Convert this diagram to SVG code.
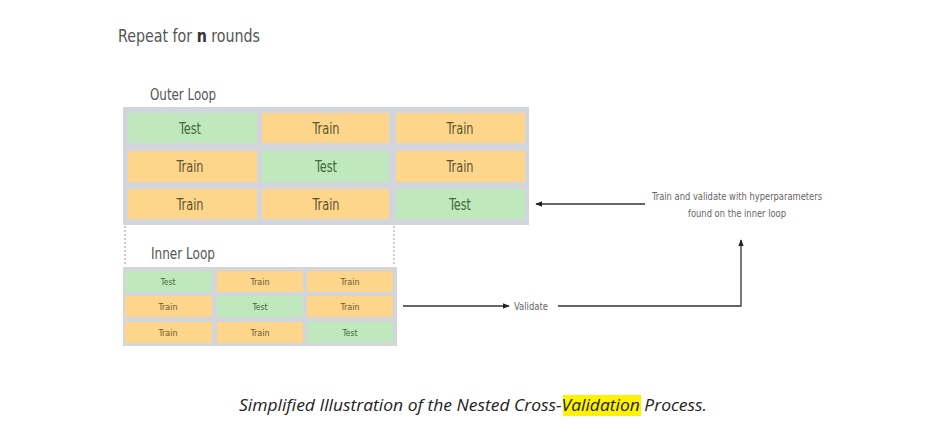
<svg xmlns="http://www.w3.org/2000/svg" width="934" height="434" viewBox="0 0 934 434">
<style>
.cond{font-family:"DejaVu Sans Condensed","Roboto","Liberation Sans",sans-serif}
.title{font-size:18px;fill:#555}
.lbl{font-size:16px;fill:#555}
.cont{fill:#d2d6dc}
.g{fill:#bfe8bc}
.o{fill:#fdd68b}
.ct{font-size:15px;text-anchor:middle;fill:#5e5530}
.ctg{fill:#3d6b3d}
.it{font-size:9px;text-anchor:middle;fill:#6a5a30}
.itg{fill:#3d6b3d}
.note{font-size:10px;fill:#666;text-anchor:middle}
.ln{stroke:#333;stroke-width:1.3;fill:none}
.dash{stroke:#999;stroke-width:1;stroke-dasharray:2 2;fill:none}
.cap{font-family:"Open Sans","Liberation Sans",sans-serif;font-style:italic;font-size:16px;fill:#222}
</style>
<defs>
<marker id="ah" viewBox="0 0 10 10" refX="9" refY="5" markerWidth="7" markerHeight="7" orient="auto-start-reverse" markerUnits="userSpaceOnUse">
<path d="M0,1 L10,5 L0,9 z" fill="#222"/>
</marker>
</defs>
<rect width="934" height="434" fill="#fff"/>

<g id="heading">
<text class="cond title" transform="translate(118,42) scale(0.88,1)" x="0" y="0">Repeat for <tspan font-weight="bold" fill="#333">n</tspan> rounds</text>
</g>

<g id="outer-loop">
<text class="cond lbl" x="150" y="100" textLength="66" lengthAdjust="spacingAndGlyphs">Outer Loop</text>
<rect class="cont" x="123" y="107" width="406" height="118"/>
<rect class="g" x="128" y="113" width="129" height="30"/>
<rect class="o" x="262" y="113" width="127" height="30"/>
<rect class="o" x="396" y="113" width="129" height="30"/>
<rect class="o" x="128" y="151" width="129" height="31"/>
<rect class="g" x="262" y="151" width="127" height="31"/>
<rect class="o" x="396" y="151" width="129" height="31"/>
<rect class="o" x="128" y="189" width="129" height="30"/>
<rect class="o" x="262" y="189" width="127" height="30"/>
<rect class="g" x="396" y="189" width="129" height="30"/>
<text class="cond ct ctg" x="190" y="134" textLength="22" lengthAdjust="spacingAndGlyphs">Test</text>
<text class="cond ct" x="326" y="134" textLength="27" lengthAdjust="spacingAndGlyphs">Train</text>
<text class="cond ct" x="460" y="134" textLength="27" lengthAdjust="spacingAndGlyphs">Train</text>
<text class="cond ct" x="190" y="172" textLength="27" lengthAdjust="spacingAndGlyphs">Train</text>
<text class="cond ct ctg" x="326" y="172" textLength="22" lengthAdjust="spacingAndGlyphs">Test</text>
<text class="cond ct" x="460" y="172" textLength="27" lengthAdjust="spacingAndGlyphs">Train</text>
<text class="cond ct" x="190" y="210" textLength="27" lengthAdjust="spacingAndGlyphs">Train</text>
<text class="cond ct" x="326" y="210" textLength="27" lengthAdjust="spacingAndGlyphs">Train</text>
<text class="cond ct ctg" x="460" y="210" textLength="22" lengthAdjust="spacingAndGlyphs">Test</text>
</g>

<g id="inner-loop">
<text class="cond lbl" x="151" y="259" textLength="64" lengthAdjust="spacingAndGlyphs">Inner Loop</text>
<rect class="cont" x="123" y="267" width="274" height="79"/>
<rect class="g" x="125" y="271" width="87" height="21"/>
<rect class="o" x="217" y="271" width="86" height="21"/>
<rect class="o" x="307" y="271" width="86" height="21"/>
<rect class="o" x="125" y="296" width="87" height="21"/>
<rect class="g" x="217" y="296" width="86" height="21"/>
<rect class="o" x="307" y="296" width="86" height="21"/>
<rect class="o" x="125" y="322" width="87" height="21"/>
<rect class="o" x="217" y="322" width="86" height="21"/>
<rect class="g" x="307" y="322" width="86" height="21"/>
<text class="cond it itg" x="168" y="285" textLength="15" lengthAdjust="spacingAndGlyphs">Test</text>
<text class="cond it" x="260" y="285" textLength="19" lengthAdjust="spacingAndGlyphs">Train</text>
<text class="cond it" x="350" y="285" textLength="19" lengthAdjust="spacingAndGlyphs">Train</text>
<text class="cond it" x="168" y="310" textLength="19" lengthAdjust="spacingAndGlyphs">Train</text>
<text class="cond it itg" x="260" y="310" textLength="15" lengthAdjust="spacingAndGlyphs">Test</text>
<text class="cond it" x="350" y="310" textLength="19" lengthAdjust="spacingAndGlyphs">Train</text>
<text class="cond it" x="168" y="336" textLength="19" lengthAdjust="spacingAndGlyphs">Train</text>
<text class="cond it" x="260" y="336" textLength="19" lengthAdjust="spacingAndGlyphs">Train</text>
<text class="cond it itg" x="350" y="336" textLength="15" lengthAdjust="spacingAndGlyphs">Test</text>
</g>

<g id="note">
<text class="cond note" x="737" y="200" textLength="170" lengthAdjust="spacingAndGlyphs">Train and validate with hyperparameters</text>
<text class="cond note" x="737" y="217" textLength="98" lengthAdjust="spacingAndGlyphs">found on the inner loop</text>
</g>

<g id="validate">
<text class="cond" x="514" y="310" font-size="10" fill="#666" textLength="34" lengthAdjust="spacingAndGlyphs">Validate</text>
</g>

<g id="connectors">
<line class="dash" x1="125" y1="226" x2="125" y2="264"/>
<line class="dash" x1="394" y1="226" x2="394" y2="264"/>
<line class="ln" x1="403" y1="306" x2="509" y2="306" marker-end="url(#ah)"/>
<polyline class="ln" points="558,306 741,306 741,240" marker-end="url(#ah)"/>
<line class="ln" x1="645" y1="204" x2="536" y2="204" marker-end="url(#ah)"/>
</g>

<g id="caption">
<rect x="563" y="395" width="78" height="21" fill="#fff200"/>
<text class="cap" x="239" y="411" textLength="468" lengthAdjust="spacingAndGlyphs">Simplified Illustration of the Nested Cross-Validation Process.</text>
</g>
</svg>
